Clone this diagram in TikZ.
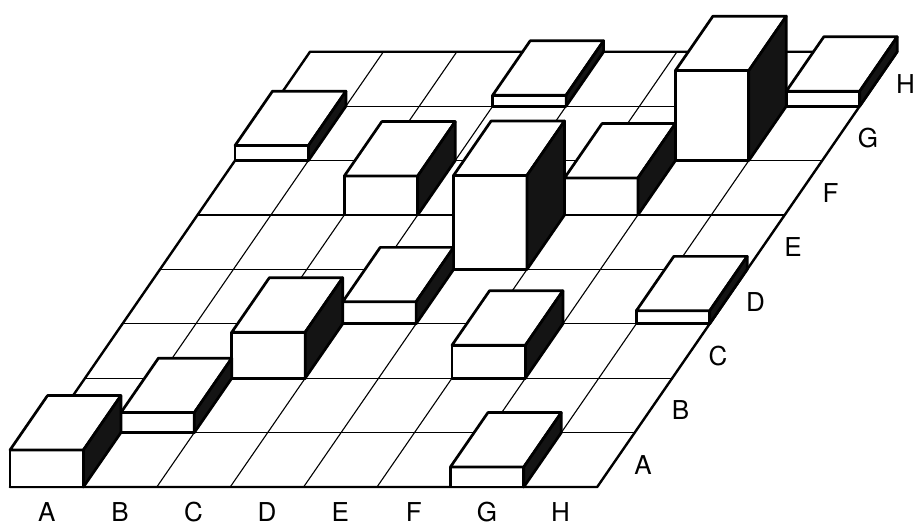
\documentclass[tikz,border=0pt]{standalone}
\usepackage{fontspec}
\setmainfont{TeX Gyre Heros}
\begin{document}
\begin{tikzpicture}[
  gridline/.style={line width=1.1pt, black},
  border/.style={line width=2.4pt, black, line join=round},
  boxline/.style={line width=2.7pt, black, line join=round},
  sideface/.style={boxline, fill=black!92},
  lab/.style={font=\fontsize{26}{30}\selectfont, inner sep=0pt}
]
\useasboundingbox (0,0) rectangle (914pt,527pt);
\begin{scope}[shift={(10pt,40pt)}, x={(73.4pt,0pt)}, y={(37.5pt,54.4pt)}, z={(0pt,1pt)}]
  % floor grid
  \foreach \i in {1,...,7} {
    \draw[gridline] (\i,0,0) -- (\i,8,0);
    \draw[gridline] (0,\i,0) -- (8,\i,0);
  }
  \draw[border] (0,0,0) -- (8,0,0) -- (8,8,0) -- (0,8,0) -- cycle;
  % boxes: column / row / height, back to front, left to right
  \foreach \c/\r/\h in {3/7/11, 7/7/15, 0/6/15, 6/6/90, 2/5/39, 5/5/37, 4/4/94,
                        3/3/22, 7/3/13, 2/2/46, 5/2/33, 1/1/20, 0/0/37, 6/0/20} {
    \pgfmathsetmacro\cc{\c+1}
    \pgfmathsetmacro\rr{\r+1}
    \filldraw[boxline, fill=white] (\c,\r,0) -- (\cc,\r,0) -- (\cc,\r,\h) -- (\c,\r,\h) -- cycle;
    \filldraw[boxline, fill=white] (\c,\r,\h) -- (\cc,\r,\h) -- (\cc,\rr,\h) -- (\c,\rr,\h) -- cycle;
    \filldraw[sideface] (\cc,\r,0) -- (\cc,\rr,0) -- (\cc,\rr,\h) -- (\cc,\r,\h) -- cycle;
  }
  % row labels on the right
  \foreach \l [count=\i from 0] in {A,B,C,D,E,F,G,H} {
    \node[lab, xshift=27pt, yshift=-5pt] (row\l) at (8,\i+0.5,0) {\l};
  }
\end{scope}
\begin{scope}[x=1pt, y=1pt]
  % column labels at the bottom
  \foreach \l [count=\i from 0] in {A,B,C,D,E,F,G,H} {
    \node[lab] (col\l) at ({10+73.4*(\i+0.5)}, 14.5) {\l};
  }
\end{scope}
\end{tikzpicture}
\end{document}
